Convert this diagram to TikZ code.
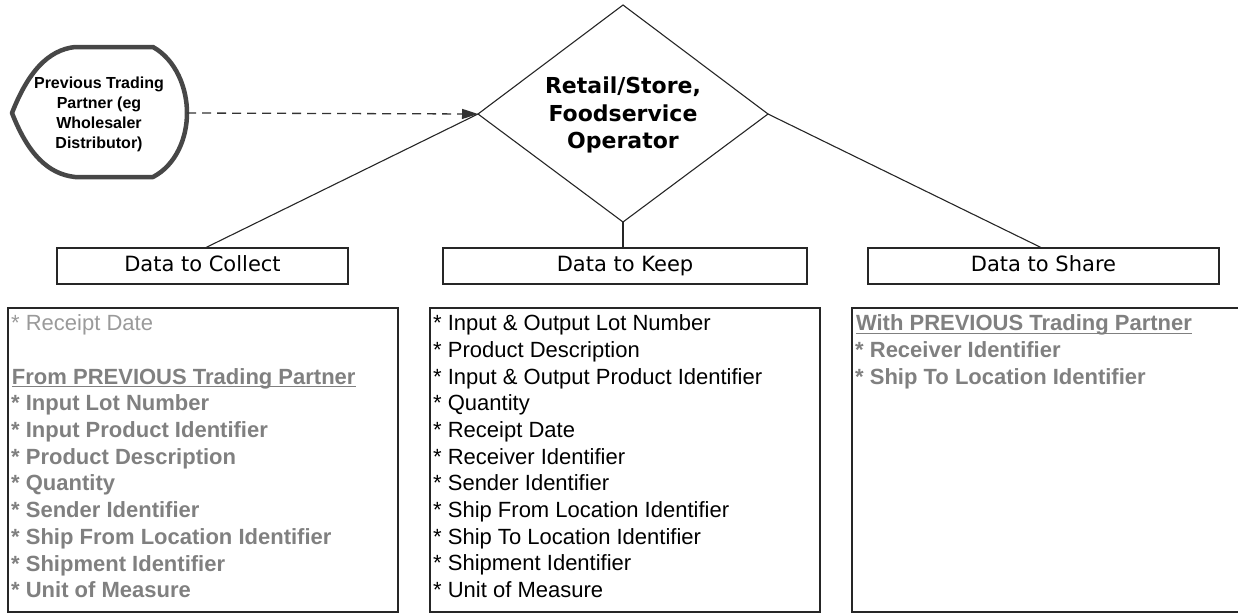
\documentclass[tikz,border=0pt]{standalone}
\usepackage{fontspec}
\setmainfont{Liberation Sans}
\newfontfamily\tahoma{DejaVu Sans}
\usetikzlibrary{arrows.meta}
\definecolor{txtgray}{HTML}{808080}
\definecolor{ltgray}{HTML}{9A9A9A}
\definecolor{shapegray}{HTML}{474747}
\newcommand{\ulx}[1]{\tikz[baseline=(u.base)]{\node[inner sep=0pt] (u) {#1}; \draw[txtgray, line width=1.2pt] ([yshift=-2.5pt]u.base west) -- ([yshift=-2.5pt]u.base east);}}
\tikzset{
  hdrbox/.style={draw=black!85, line width=1.3pt, minimum height=36pt, inner sep=0pt, text height=15.5pt, text depth=4.5pt, font=\tahoma\fontsize{21}{25}\selectfont},
  listbox/.style={draw=black!85, line width=1.3pt},
  listtext/.style={anchor=north west, inner sep=0pt, align=left, font=\fontsize{22}{26.7}\selectfont},
  conn/.style={draw=black!85, line width=1.1pt},
}
\begin{document}
\begin{tikzpicture}[x=1pt,y=-1pt]
\useasboundingbox (0,0) rectangle (1238,614);
% previous trading partner shape
\draw[shapegray, line width=4.5pt, line join=round]
  (12,113) .. controls (28,72) and (48,50) .. (75,47) -- (153,47)
  .. controls (176,60) and (187,88) .. (187,113)
  .. controls (187,138) and (176,165) .. (153,177) -- (75,177)
  .. controls (48,174) and (28,154) .. cycle;
\node[align=center, inner sep=0pt, font=\bfseries\fontsize{16}{20}\selectfont] (prev) at (99,114)
  {Previous Trading\\Partner (eg\\Wholesaler\\Distributor)};
\coordinate (prevR) at (187,113);
% diamond
\coordinate (dT) at (623,5);
\coordinate (dL) at (478,114);
\coordinate (dR) at (768,114);
\coordinate (dB) at (623,222);
\draw[conn] (dT) -- (dR) -- (dB) -- (dL) -- cycle;
\node[align=center, inner sep=0pt, font=\tahoma\bfseries\fontsize{22}{27.5}\selectfont] (op) at (623,115)
  {Retail/Store,\\Foodservice\\Operator};
% dashed arrow
\draw[black!80, line width=1.3pt, dash pattern=on 9pt off 6pt, -{Triangle[length=16pt,width=10pt]}] (prevR) -- (dL);
% header boxes
\node[hdrbox, minimum width=291pt] (hc) at (202.5,266) {Data to Collect};
\node[hdrbox, minimum width=364pt] (hk) at (625,266) {Data to Keep};
\node[hdrbox, minimum width=351pt] (hs) at (1043.5,266) {Data to Share};
\draw[conn] (dL) -- (205,248);
\draw[conn] (dR) -- (1042,248);
\draw[conn] (dB) -- (623,248);
% list boxes
\draw[listbox] (8,308) rectangle (398,612);
\draw[listbox] (430,308) rectangle (820,612);
\draw[listbox] (852,308) rectangle (1245,612);
% collect text
\node[listtext, text=ltgray] (c1) at (11,314.5) {* Receipt Date};
\node[listtext, text=txtgray, font=\bfseries\fontsize{22}{26.7}\selectfont] (c2) at (11,368)
  {\ulx{From PREVIOUS Trading Partner}\\
   * Input Lot Number\\
   * Input Product Identifier\\
   * Product Description\\
   * Quantity\\
   * Sender Identifier\\
   * Ship From Location Identifier\\
   * Shipment Identifier\\
   * Unit of Measure};
% keep text
\node[listtext, text=black] (k1) at (433,314.5)
  {* Input \& Output Lot Number\\
   * Product Description\\
   * Input \& Output Product Identifier\\
   * Quantity\\
   * Receipt Date\\
   * Receiver Identifier\\
   * Sender Identifier\\
   * Ship From Location Identifier\\
   * Ship To Location Identifier\\
   * Shipment Identifier\\
   * Unit of Measure};
% share text
\node[listtext, text=txtgray, font=\bfseries\fontsize{22}{26.7}\selectfont] (s1) at (855,314.5)
  {\ulx{With PREVIOUS Trading Partner}\\
   * Receiver Identifier\\
   * Ship To Location Identifier};
\end{tikzpicture}
\end{document}
